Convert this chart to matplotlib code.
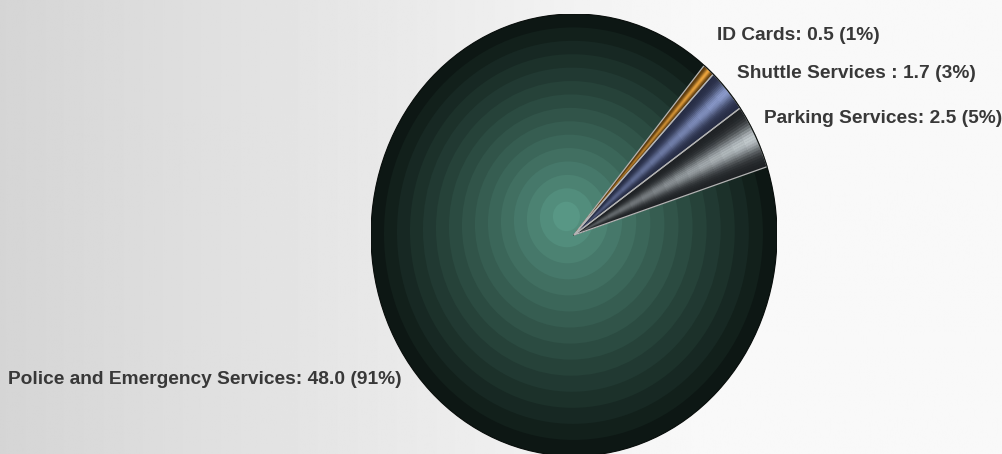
import numpy as np
import matplotlib
matplotlib.use("Agg")
import matplotlib.pyplot as plt
from matplotlib.patches import Circle, Wedge
from matplotlib.colors import to_rgb

# data, in drawing order (clockwise from the top of the small slices)
categories = ["ID Cards", "Shuttle Services ", "Parking Services",
              "Police and Emergency Services"]
values = [0.5, 1.7, 2.5, 48.0]

# label anchors in pixels (x, y, ha)
label_pos = [(717, 35, "left"), (737, 74, "left"), (764, 119, "left"),
             (402, 379, "right")]

# (dark edge, highlight) colours of the small slices
slice_cols = [("#5a3a0e", "#f0a840"), ("#262c44", "#8e9ed0"),
              ("#1e2124", "#c4ccd0")]
police_inner = "#5c9e8b"
police_outer = "#0b1310"

W, H = 1002, 454
fig = plt.figure(figsize=(W / 100, H / 100), dpi=100)

# background: grey on the left fading to near white
bg = fig.add_axes([0, 0, 1, 1])
xs = np.linspace(0, 1, 600)
shade = np.interp(xs, [0, 0.7, 1.0], [0.835, 0.975, 0.975])
bg.imshow(np.tile(shade, (2, 1)), cmap="gray", vmin=0, vmax=1,
          aspect="auto", extent=[0, 1, 0, 1])
bg.set_axis_off()

# pie is a slightly tall ellipse
cx, cy, rx, ry = 574, 235, 203, 221
ax = fig.add_axes([(cx - rx) / W, (H - cy - ry) / H, 2 * rx / W, 2 * ry / H])
total = sum(values)
start = 18 + sum(values[:3]) / total * 360
wedges, _ = ax.pie(values, startangle=start, counterclock=False,
                   colors=[c[0] for c in slice_cols] + [police_outer],
                   wedgeprops=dict(linewidth=0))
ax.set_aspect("auto")
ax.set_xlim(-1, 1)
ax.set_ylim(-1, 1)
ax.set_axis_off()

# police slice: banded radial gradient with an off-centre focus
police = wedges[3]
fx, fy = -0.04, 0.09
n = 15
c0, c1 = np.array(to_rgb(police_inner)), np.array(to_rgb(police_outer))
for k in range(n, 0, -1):
    t = k / n
    s = ((k - 0.5) / n) ** 0.9
    col = c0 + (c1 - c0) * s
    circ = Circle((fx * (1 - t), fy * (1 - t)), t, facecolor=col,
                  edgecolor="none", zorder=2)
    ax.add_patch(circ)
    circ.set_clip_path(police)

# small slices: conical highlight along the middle, darker at the apex
m, nr = 24, 16
for w, (dark, light) in zip(wedges[:3], slice_cols):
    d, l = np.array(to_rgb(dark)), np.array(to_rgb(light))
    span = w.theta2 - w.theta1
    for i in range(m):
        a = (i + 0.5) / m
        bump = np.exp(-((a - 0.5) / 0.22) ** 2)
        for j in range(nr):
            r = (j + 0.5) / nr
            f = bump * (0.25 + 0.75 * r)
            col = d + (l - d) * f
            ax.add_patch(Wedge((0, 0), (j + 1) / nr,
                               w.theta1 + span * i / m,
                               w.theta1 + span * (i + 1) / m,
                               width=1 / nr, facecolor=col,
                               edgecolor=col, linewidth=0.4, zorder=3))

# slice outlines
for w in wedges[:3]:
    ax.add_patch(Wedge((0, 0), 1, w.theta1, w.theta2, fill=False,
                       edgecolor="#b4b4b4", linewidth=0.9, zorder=4))
ax.add_patch(Circle((0, 0), 1, fill=False, edgecolor="#0a0f0d",
                    linewidth=0.8, zorder=4))

# labels
for name, v, (x, y, ha) in zip(categories, values, label_pos):
    fig.text(x / W, 1 - y / H, f"{name}: {v:.1f} ({v / total * 100:.0f}%)",
             ha=ha, va="center", fontsize=13.8, fontweight="bold",
             family="Liberation Sans", color="#383838")

fig.savefig("out.png", dpi=100)
